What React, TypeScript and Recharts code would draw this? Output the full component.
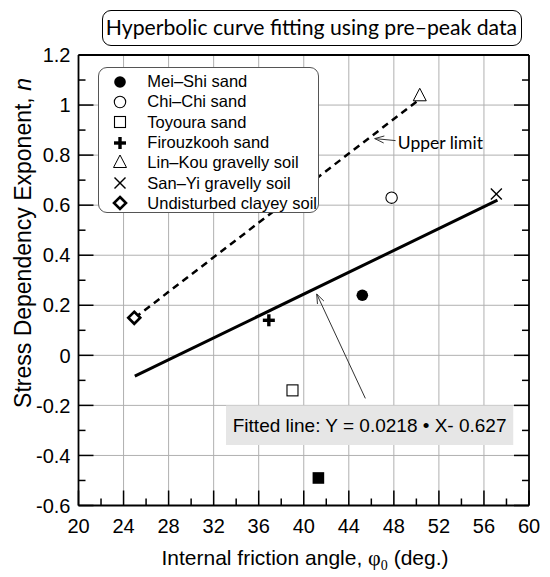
import { CartesianGrid, ComposedChart, Line, ReferenceArea, ReferenceDot, ReferenceLine, Scatter, XAxis, YAxis } from "recharts";

// axis ticks (minor + major) and grid positions
const xTicks = [20, 22, 24, 26, 28, 30, 32, 34, 36, 38, 40, 42, 44, 46, 48, 50, 52, 54, 56, 58, 60];
const yTicks = [-0.6, -0.5, -0.4, -0.3, -0.2, -0.1, 0, 0.1, 0.2, 0.3, 0.4, 0.5, 0.6, 0.7, 0.8, 0.9, 1.0, 1.1, 1.2];
const gridX = [24, 28, 32, 36, 40, 44, 48, 52, 56];
const gridY = [-0.4, -0.2, 0, 0.2, 0.4, 0.6, 0.8, 1.0];

const meiShi = [{ x: 45.2, y: 0.24 }];
const chiChi = [{ x: 47.8, y: 0.63 }];
const toyoura = [{ x: 39.0, y: -0.14 }];
const toyouraFilled = [{ x: 41.3, y: -0.49 }];
const firouzkooh = [{ x: 36.9, y: 0.14 }];
const linKou = [{ x: 50.3, y: 1.035 }];
const sanYi = [{ x: 57.1, y: 0.645 }];
const clayey = [{ x: 24.95, y: 0.15 }];

// line end points
const fitLine = [{ x: 25, y: -0.083 }, { x: 57.2, y: 0.62 }];
const upperLine = [{ x: 25, y: 0.15 }, { x: 50.05, y: 1.015 }];

const legendNames = [
  "Mei–Shi sand",
  "Chi–Chi sand",
  "Toyoura sand",
  "Firouzkooh sand",
  "Lin–Kou gravelly soil",
  "San–Yi gravelly soil",
  "Undisturbed clayey soil",
];
const legendKinds = ["filledCircle", "openCircle", "openSquare", "plus", "triangle", "cross", "diamond"];

const AXIS_FONT = "'Liberation Sans', Arial, sans-serif";
const TITLE_FONT = "Lato, 'Open Sans', sans-serif";

function Marker({ kind, cx, cy }: { kind: string; cx: number; cy: number }) {
  switch (kind) {
    case "filledCircle":
      return <circle cx={cx} cy={cy} r={5.8} fill="#000" />;
    case "openCircle":
      return <circle cx={cx} cy={cy} r={5.7} fill="#fff" stroke="#000" strokeWidth={1.1} />;
    case "openSquare":
      return <rect x={cx - 5.5} y={cy - 5.5} width={11} height={11} fill="#fff" stroke="#000" strokeWidth={1.1} />;
    case "filledSquare":
      return <rect x={cx - 5.8} y={cy - 5.8} width={11.6} height={11.6} fill="#000" />;
    case "plus":
      return (
        <g fill="#000">
          <rect x={cx - 6} y={cy - 1.7} width={12} height={3.4} />
          <rect x={cx - 1.7} y={cy - 6} width={3.4} height={12} />
        </g>
      );
    case "triangle":
      return (
        <polygon
          points={`${cx},${cy - 8} ${cx - 6.5},${cy + 4.5} ${cx + 6.5},${cy + 4.5}`}
          fill="#fff"
          stroke="#000"
          strokeWidth={1}
        />
      );
    case "cross":
      return (
        <g stroke="#000" strokeWidth={1.4}>
          <line x1={cx - 5.5} y1={cy - 5.5} x2={cx + 5.5} y2={cy + 5.5} />
          <line x1={cx - 5.5} y1={cy + 5.5} x2={cx + 5.5} y2={cy - 5.5} />
        </g>
      );
    case "diamond":
      return (
        <polygon
          points={`${cx},${cy - 6} ${cx + 6},${cy} ${cx},${cy + 6} ${cx - 6},${cy}`}
          fill="#fff"
          stroke="#000"
          strokeWidth={2.6}
        />
      );
    default:
      return <g />;
  }
}

const shapeOf = (kind: string) => (p: any) => <Marker kind={kind} cx={p.cx} cy={p.cy} />;

const isMajorX = (v: number) => v % 4 === 0;
const isMajorY = (v: number) => Math.round(v * 10) % 2 === 0;
const fmtY = (v: number) => String(Math.round(v * 10) / 10);

function BottomTick({ x, y, payload }: any) {
  const major = isMajorX(payload.value);
  return (
    <g>
      <line x1={x} y1={y} x2={x} y2={y - (major ? 15 : 7)} stroke="#000" strokeWidth={1.5} />
      {major && (
        <text x={x} y={y + 27} textAnchor="middle" fontSize={20} fontFamily={AXIS_FONT} fill="#000">
          {payload.value}
        </text>
      )}
    </g>
  );
}

function TopTick({ x, y, payload }: any) {
  const major = isMajorX(payload.value);
  return <line x1={x} y1={y} x2={x} y2={y + (major ? 15 : 7)} stroke="#000" strokeWidth={1.5} />;
}

function LeftTick({ x, y, payload }: any) {
  const major = isMajorY(payload.value);
  return (
    <g>
      <line x1={x} y1={y} x2={x + (major ? 15 : 7)} y2={y} stroke="#000" strokeWidth={1.5} />
      {major && (
        <text x={x - 8} y={y} dy="0.36em" textAnchor="end" fontSize={20} fontFamily={AXIS_FONT} fill="#000">
          {fmtY(payload.value)}
        </text>
      )}
    </g>
  );
}

function RightTick({ x, y, payload }: any) {
  const major = isMajorY(payload.value);
  return <line x1={x} y1={y} x2={x - (major ? 15 : 7)} y2={y} stroke="#000" strokeWidth={1.5} />;
}

function Arrow(p: any) {
  const { x1, y1, x2, y2 } = p;
  const ang = Math.atan2(y2 - y1, x2 - x1);
  const L = 10;
  const a = 0.36;
  const h1 = `${x2 - L * Math.cos(ang - a)},${y2 - L * Math.sin(ang - a)}`;
  const h2 = `${x2 - L * Math.cos(ang + a)},${y2 - L * Math.sin(ang + a)}`;
  return (
    <g stroke="#333" strokeWidth={1} fill="none">
      <line x1={x1} y1={y1} x2={x2} y2={y2} />
      <polyline points={`${h1} ${x2},${y2} ${h2}`} />
    </g>
  );
}

const axisLine = { stroke: "#000", strokeWidth: 1.8 };

export default function App() {
  return (
    <div style={{ position: "relative", width: 550, height: 577, background: "#fff" }}>
      <style>{"body{margin:0}"}</style>
      <ComposedChart width={550} height={577} margin={{ top: 54, right: 20, bottom: 70.5, left: 77.5 }}>
        <CartesianGrid verticalValues={gridX} horizontalValues={gridY} stroke="#b0b0b0" strokeWidth={1} />
        <XAxis
          dataKey="x"
          type="number"
          domain={[20, 60]}
          ticks={xTicks}
          interval={0}
          height={1}
          tickSize={0}
          tickMargin={0}
          tickLine={false}
          axisLine={axisLine}
          tick={<BottomTick />}
          allowDataOverflow
          label={{
            content: () => (
              <text x={305} y={565} textAnchor="middle" fontSize={21} fontFamily={AXIS_FONT} fill="#000">
                Internal friction angle,{" "}
                <tspan fontFamily="'Liberation Serif', serif" fontSize={22}>φ</tspan>
                <tspan fontFamily="'Liberation Serif', serif" fontSize={14} dy={5}>0</tspan>
                <tspan dy={-5}> (deg.)</tspan>
              </text>
            ),
          }}
        />
        <XAxis
          xAxisId="top"
          orientation="top"
          type="number"
          domain={[20, 60]}
          ticks={xTicks}
          interval={0}
          height={1}
          tickSize={0}
          tickMargin={0}
          tickLine={false}
          axisLine={axisLine}
          tick={<TopTick />}
          allowDataOverflow
        />
        <YAxis
          dataKey="y"
          type="number"
          domain={[-0.6, 1.2]}
          ticks={yTicks}
          interval={0}
          width={1}
          tickSize={0}
          tickMargin={0}
          tickLine={false}
          axisLine={axisLine}
          tick={<LeftTick />}
          allowDataOverflow
          label={{
            content: () => (
              <text
                transform="translate(31,243) rotate(-90)"
                textAnchor="middle"
                fontSize={23}
                fontFamily={AXIS_FONT}
                fill="#000"
              >
                Stress Dependency Exponent, <tspan fontStyle="italic">n</tspan>
              </text>
            ),
          }}
        />
        <YAxis
          yAxisId="right"
          orientation="right"
          type="number"
          domain={[-0.6, 1.2]}
          ticks={yTicks}
          interval={0}
          width={1}
          tickSize={0}
          tickMargin={0}
          tickLine={false}
          axisLine={axisLine}
          tick={<RightTick />}
          allowDataOverflow
        />

        <ReferenceArea
          x1={33.1}
          x2={58.6}
          y1={-0.358}
          y2={-0.2}
          fill="#e6e6e6"
          fillOpacity={1}
          stroke="none"
          label={{
            value: "Fitted line: Y = 0.0218 • X- 0.627",
            position: "center",
            fontSize: 19,
            fontFamily: AXIS_FONT,
            fill: "#000",
          }}
        />

        <Line data={fitLine} dataKey="y" stroke="#000" strokeWidth={3} dot={false} isAnimationActive={false} />
        <Line
          data={upperLine}
          dataKey="y"
          stroke="#000"
          strokeWidth={2.5}
          strokeDasharray="7 5"
          dot={false}
          isAnimationActive={false}
        />

        <ReferenceLine segment={[{ x: 45.47, y: -0.172 }, { x: 41.15, y: 0.245 }]} shape={Arrow} />
        <ReferenceLine segment={[{ x: 48.15, y: 0.858 }, { x: 46.3, y: 0.866 }]} shape={Arrow} />
        <ReferenceDot
          x={48.35}
          y={0.85}
          r={1}
          fill="none"
          stroke="none"
          label={{
            content: (p: any) => (
              <text
                x={p.viewBox.x + 1}
                y={p.viewBox.y + 1}
                dy="0.35em"
                fontSize={17.5}
                fontFamily={TITLE_FONT}
                fill="#000"
              >
                Upper limit
              </text>
            ),
          }}
        />

        <Scatter data={meiShi} shape={shapeOf("filledCircle")} isAnimationActive={false} />
        <Scatter data={chiChi} shape={shapeOf("openCircle")} isAnimationActive={false} />
        <Scatter data={toyoura} shape={shapeOf("openSquare")} isAnimationActive={false} />
        <Scatter data={toyouraFilled} shape={shapeOf("filledSquare")} isAnimationActive={false} />
        <Scatter data={firouzkooh} shape={shapeOf("plus")} isAnimationActive={false} />
        <Scatter data={linKou} shape={shapeOf("triangle")} isAnimationActive={false} />
        <Scatter data={sanYi} shape={shapeOf("cross")} isAnimationActive={false} />
        <Scatter data={clayey} shape={shapeOf("diamond")} isAnimationActive={false} />
      </ComposedChart>

      {/* title box */}
      <div
        style={{
          position: "absolute",
          left: 101.5,
          top: 10,
          width: 420,
          height: 35.5,
          boxSizing: "border-box",
          border: "1.3px solid #000",
          borderRadius: 9,
          background: "#fff",
          fontFamily: TITLE_FONT,
          fontSize: 21.2,
          lineHeight: "33px",
          textAlign: "center",
          whiteSpace: "nowrap",
        }}
      >
        Hyperbolic curve fitting using pre–peak data
      </div>

      {/* legend */}
      <div
        style={{
          position: "absolute",
          left: 98.3,
          top: 67.3,
          width: 221,
          height: 146,
          boxSizing: "border-box",
          border: "1px solid #555",
          borderRadius: 9,
          background: "#fff",
          paddingTop: 3.2,
          fontFamily: AXIS_FONT,
          fontSize: 16.5,
        }}
      >
        {legendNames.map((name, i) => (
          <div key={name} style={{ display: "flex", alignItems: "center", height: 20.3, whiteSpace: "nowrap" }}>
            <svg width={16} height={16} style={{ marginLeft: 13, marginRight: 19, overflow: "visible" }}>
              <Marker kind={legendKinds[i]} cx={8} cy={8} />
            </svg>
            <span>{name}</span>
          </div>
        ))}
      </div>
    </div>
  );
}
